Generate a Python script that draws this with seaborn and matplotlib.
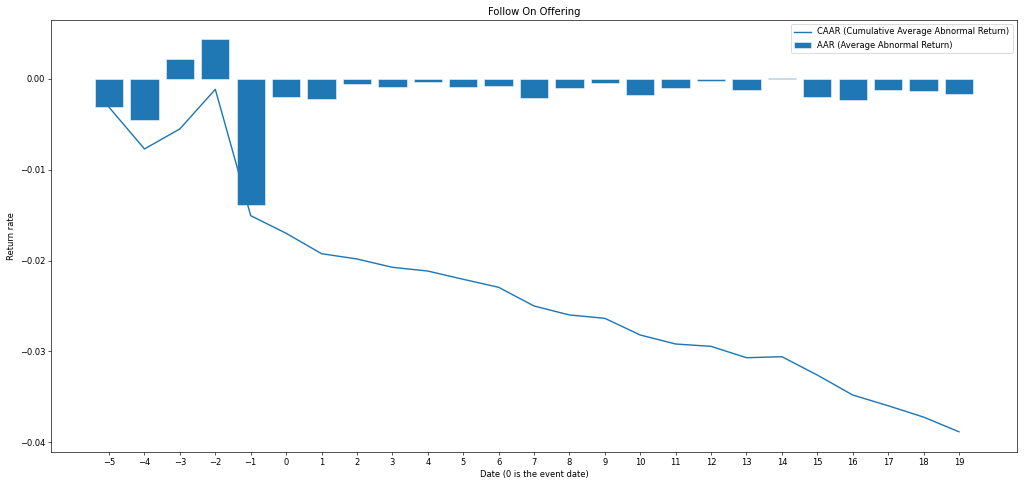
import matplotlib
matplotlib.use("Agg")
import matplotlib.pyplot as plt
import numpy as np
import seaborn as sns

# event window days
days = list(range(-5, 20))

# AAR (Average Abnormal Return), one per day
aar = [-0.00312, -0.00455, 0.00224, 0.00437, -0.01388, -0.00198, -0.00217,
       -0.00051, -0.00088, -0.00037, -0.00092, -0.00081, -0.00206, -0.00103,
       -0.00040, -0.00182, -0.00103, -0.00026, -0.00125, 0.00010, -0.00194,
       -0.00228, -0.00118, -0.00132, -0.00165]

# CAAR (Cumulative Average Abnormal Return)
caar = [-0.00312, -0.00771, -0.00550, -0.00114, -0.01506, -0.01700, -0.01925,
        -0.01983, -0.02075, -0.02116, -0.02207, -0.02295, -0.02501, -0.02600,
        -0.02637, -0.02821, -0.02920, -0.02946, -0.03071, -0.03060, -0.03262,
        -0.03482, -0.03600, -0.03725, -0.03887]

blue = "#1f77b4"

# drawn big and at low dpi, like a screenshot of a large figure
fig, ax = plt.subplots(figsize=(1024 / 60, 485 / 60), dpi=60)
fig.subplots_adjust(left=0.0498, right=0.9932, top=0.9588, bottom=0.068)

sns.lineplot(x=days, y=caar, color=blue, linewidth=1.7,
             label="CAAR (Cumulative Average Abnormal Return)", ax=ax)
sns.barplot(x=days, y=aar, native_scale=True, width=0.8, color=blue,
            saturation=1, edgecolor="white", linewidth=0.6,
            label="AAR (Average Abnormal Return)", ax=ax)

ax.set_xticks(days)
ax.set_xlim(-6.64, 20.64)
ax.set_ylim(-0.0411, 0.0065)
ax.set_title("Follow On Offering")
ax.set_xlabel("Date (0 is the event date)")
ax.set_ylabel("Return rate")
ax.legend(loc="upper right")

fig.savefig("out.png", dpi=60)
plt.close(fig)
